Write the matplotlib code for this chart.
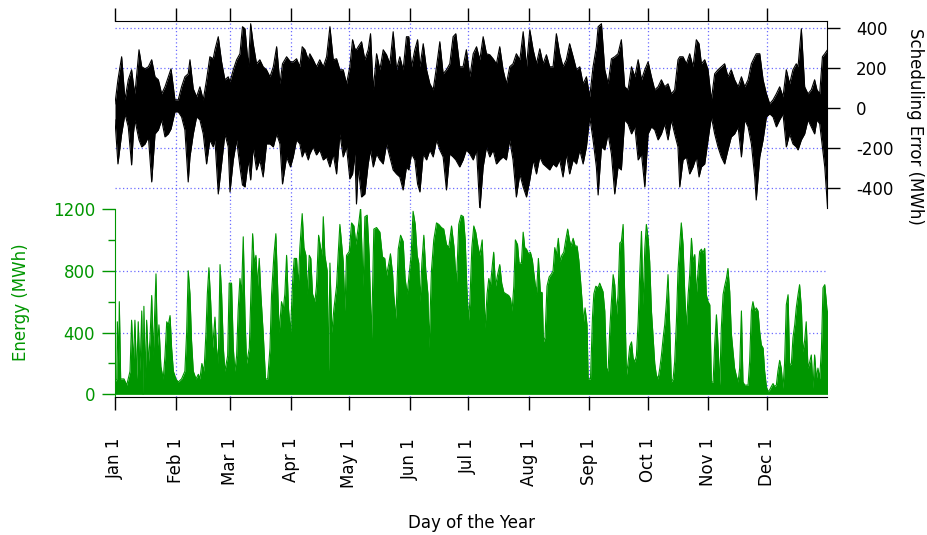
import matplotlib
matplotlib.use("Agg")
import matplotlib.pyplot as plt
from matplotlib.ticker import MultipleLocator

GREEN = "#009600"
GRID = "#6b6bff"

month_days = [0, 31, 59, 90, 120, 151, 181, 212, 243, 273, 304, 334]
month_labels = ["Jan 1", "Feb 1", "Mar 1", "Apr 1", "May 1", "Jun 1",
                "Jul 1", "Aug 1", "Sep 1", "Oct 1", "Nov 1", "Dec 1"]

# hourly energy, read as peaks / troughs along the year (day of year, MWh)
energy_day = [
    0, 0.9, 1.2, 1.9, 2.2, 2.9, 4.6, 6, 7.7, 8.5, 9.4, 10.2, 11.1, 11.9, 12.8, 13.7, 14.4, 14.8,
    15.5, 16.2, 17.1, 17.9, 18.8, 19.6, 20.5, 21.0, 21.7, 22.5, 23.5, 24.7, 25.6, 26.5, 27.3,
    28.2, 29.0, 29.9, 31.2, 32.4, 34.1, 35.8, 36.7, 37.5, 38.4, 39.2, 40.1, 41.5, 42.7, 43.5,
    44.5, 45.6, 46.6, 47.3, 48.1, 49.0, 50.0, 51.2, 52.0, 52.9, 53.8, 54.6, 55.5, 56.3, 57.7,
    58.5, 59.7, 60.6, 61.4, 62.3, 63.1, 64.0, 64.8, 65.7, 66.6, 67.4, 68.8, 69.5, 70.5, 71.3,
    72.2, 73.0, 73.9, 74.7, 75.9, 77.1, 78.2, 79.4, 80.2, 81.4, 82.4, 83.3, 84.1, 85.3, 86.2,
    87.0, 87.9, 88.9, 89.9, 91.0, 91.8, 93.0, 93.9, 94.7, 95.9, 96.8, 97.8, 98.5, 99.5, 100.3,
    101.2, 102.4, 103.2, 104.3, 105.3, 106.1, 106.7, 107.5, 108.7, 109.4, 110.1, 111.1, 112.1,
    113.5, 114.3, 115.2, 116.9, 117.8, 118.6, 120.0, 121.2, 122.4, 123.4, 124.6, 125.8, 127.1,
    128.0, 129.2, 130.2, 131.4, 132.6, 134.0, 135.7, 137.0, 138.2, 139.1, 140.3, 141.1, 142.2,
    142.8, 143.9, 145.1, 146.3, 147.6, 148.6, 149.7, 150.7, 151.7, 152.7, 153.8, 154.8, 155.6,
    156.3, 157.2, 158.2, 159.2, 160.3, 160.9, 162.1, 163.3, 164.7, 165.9, 167.2, 168.4, 169.8,
    171.0, 172.4, 173.6, 174.9, 176.1, 177.3, 178.5, 179.4, 180.2, 181.1, 181.8, 182.8, 183.8,
    184.8, 185.9, 186.9, 188.1, 188.8, 189.6, 190.6, 191.5, 192.3, 193.4, 194.0, 194.9, 196.1,
    197.1, 198.1, 199.2, 200.5, 201.7, 202.6, 203.4, 204.3, 205.1, 206.2, 207.0, 208.2, 209.1,
    209.9, 210.8, 211.8, 212.8, 213.8, 214.9, 215.9, 216.9, 217.9, 218.8, 219.5, 220.3, 221.3,
    222.4, 223.6, 224.4, 225.3, 226.1, 227.1, 228.0, 228.9, 229.9, 230.9, 231.9, 232.8, 233.6,
    234.7, 235.7, 236.7, 237.6, 238.4, 239.3, 240.0, 240.8, 241.8, 242.4, 243.6, 244.6, 245.3,
    246.3, 247.5, 248.3, 249.2, 250.0, 250.9, 251.8, 252.6, 253.5, 254.3, 255.2, 256.0, 256.9,
    257.7, 258.6, 259.4, 260.3, 261.1, 262.0, 262.8, 263.7, 264.6, 265.4, 266.3, 267.1, 268.0,
    268.8, 269.7, 270.5, 271.4, 272.2, 273.1, 273.9, 274.8, 275.6, 276.5, 277.3, 278.2, 279.1,
    279.9, 280.8, 281.6, 282.5, 283.3, 284.2, 285.0, 285.9, 286.7, 287.6, 288.4, 289.3, 290.1,
    291.0, 291.9, 292.7, 293.6, 294.4, 295.3, 296.1, 297.0, 297.8, 298.7, 299.5, 300.4, 301.2,
    302.1, 302.9, 303.8, 304.7, 305.5, 306.4, 307.2, 308.1, 308.9, 309.8, 310.6, 311.5, 312.3,
    313.2, 314.0, 314.9, 315.7, 316.6, 317.4, 318.3, 319.2, 320.0, 320.9, 321.7, 322.6, 323.4,
    324.3, 325.1, 326.0, 326.8, 327.7, 328.5, 329.4, 330.3, 331.1, 332.0, 332.8, 333.7, 334.5,
    335.4, 336.2, 337.1, 337.9, 338.8, 339.6, 340.5, 341.3, 342.2, 343.0, 343.9, 344.8, 345.6,
    346.5, 347.3, 348.2, 349.0, 349.9, 350.7, 351.6, 352.4, 353.3, 354.1, 355.0, 355.9, 356.7,
    357.6, 358.4, 359.3, 360.1, 361.0, 361.9, 362.7, 363.6, 364.4, 365.0,
]
energy_mwh = [
    80, 100, 470, 200, 600, 100, 100, 60, 150, 480, 200, 480, 100, 470, 150, 540, 0, 570,
    100, 480, 200, 350, 640, 250, 600, 780, 300, 450, 180, 100, 250, 470, 450,
    510, 300, 150, 100, 80, 100, 150, 400, 800, 650, 350, 150, 100, 130, 100,
    200, 150, 400, 650, 820, 600, 300, 500, 300, 200, 840, 650, 300, 150, 250,
    720, 720, 300, 150, 250, 550, 750, 650, 1020, 500, 200, 300, 600, 1040, 850,
    900, 700, 880, 650, 400, 100, 100, 300, 650, 900, 1040, 700, 400, 600, 550,
    650, 900, 550, 400, 730, 880, 880, 700, 950, 1170, 950, 900, 650, 900, 880,
    650, 600, 700, 1030, 950, 900, 1150, 900, 800, 150, 850, 400, 550,
    700, 900, 1100, 860, 540, 900, 925, 1110, 1090, 970, 1080, 1205, 700,
    1150, 1160, 900, 360, 1070, 1080, 1050, 890, 880, 770, 850, 910, 780,
    640, 490, 940, 1030, 990, 750, 650, 780, 900, 1185, 1100, 900, 850,
    600, 850, 1030, 800, 650, 300, 800, 1000, 1110, 1100, 1080, 1070, 970,
    950, 1090, 960, 710, 1100, 1160, 1150, 1000, 700, 480, 600, 950, 1090,
    1050, 960, 900, 1000, 750, 430, 650, 750, 700, 850, 920, 700, 780,
    840, 720, 660, 650, 640, 620, 540, 700, 1000, 970, 850, 850, 1050,
    950, 940, 910, 920, 870, 750, 650, 880, 660, 660, 340, 370, 700,
    760, 780, 800, 950, 900, 1010, 860, 900, 920, 1000, 1070, 1000, 960,
    1010, 960, 960, 870, 750, 600, 470, 560, 450, 100, 100, 500, 650,
    700, 690, 720, 690, 665, 540, 170, 150, 430, 600, 775, 710, 515,
    645, 980, 990, 1100, 645, 125, 200, 310, 340, 235, 210, 250, 470,
    775, 1055, 580, 945, 1100, 1010, 860, 540, 385, 200, 125, 100, 170,
    250, 365, 450, 600, 775, 430, 80, 100, 210, 470, 795, 970, 1110,
    970, 645, 430, 645, 775, 1010, 860, 905, 645, 800, 925, 940, 915,
    945, 645, 600, 580, 80, 80, 320, 515, 320, 60, 430, 645, 700,
    750, 815, 665, 400, 275, 170, 120, 80, 170, 540, 80, 60, 60,
    60, 210, 540, 600, 540, 560, 540, 400, 320, 300, 150, 50, 17,
    30, 50, 70, 50, 60, 150, 220, 170, 40, 200, 580, 645, 190,
    200, 365, 450, 560, 645, 710, 560, 275, 350, 470, 170, 210, 255,
    40, 255, 100, 170, 100, 300, 690, 710, 600, 540,
]

# scheduling error envelope (day of year, upper and lower MWh)
err_day = [
    0, 1.5, 3.4, 5.1, 6.8, 8.5, 9.4, 10.2, 12.3, 13.7, 15.4, 17.1, 18.8, 20.5, 22.2, 23.9,
    25.6, 27.3, 28.7, 30.7, 32.4, 34.1, 35.8, 37.5, 38.4, 40.1, 41.8, 43.5, 45.2, 46.9, 48.6,
    50.3, 51.2, 52.9, 54.6, 56.3, 58.0, 58.9, 60.6, 62.3, 64.0, 65.3, 66.6, 68.3, 69.5, 70.8,
    72.5, 74.2, 75.9, 77.6, 79.4, 81.1, 82.8, 84.5, 85.8, 87.9, 89.9, 91.3, 93.0, 94.7, 95.9,
    97.3, 99.0, 99.8, 101.5, 103.2, 104.9, 106.7, 108.4, 110.1, 111.8, 113.5, 115.2, 116.9,
    118.6, 120.3, 121.7, 122.9, 123.7, 124.6, 126.3, 128.0, 129.7, 130.9, 132.3, 134.0, 135.7,
    137.4, 139.1, 140.8, 142.5, 144.2, 145.9, 147.6, 149.3, 150.5, 151.9, 153.6, 155.0, 156.2,
    157.9, 159.6, 161.3, 163.0, 164.7, 166.4, 168.1, 169.8, 171.5, 173.2, 174.6, 176.6, 178.3,
    180.0, 181.8, 183.5, 185.2, 186.9, 188.6, 190.3, 192.0, 193.7, 195.4, 197.1, 198.8, 200.5,
    202.2, 203.9, 205.6, 207.4, 209.1, 210.8, 212.5, 214.2, 215.9, 217.6, 219.3, 221.0, 222.7,
    224.4, 226.1, 227.8, 229.5, 231.2, 232.9, 234.7, 236.4, 238.1, 239.8, 241.5, 243.2, 244.9,
    246.6, 247.5, 249.2, 250.9, 252.6, 254.3, 256.0, 257.7, 259.4, 261.1, 262.8, 264.6, 266.3,
    268.0, 269.7, 271.4, 273.1, 274.8, 276.5, 278.2, 279.9, 281.6, 283.3, 285.0, 286.7, 288.4,
    289.3, 291.0, 292.7, 294.4, 296.1, 297.8, 299.2, 300.4, 302.1, 303.8, 305.5, 307.2, 308.9,
    310.6, 312.3, 314.0, 315.7, 317.4, 319.2, 320.9, 322.6, 324.3, 326.0, 327.7, 328.5, 330.3,
    332.0, 333.7, 335.4, 337.1, 338.8, 340.5, 342.2, 343.9, 345.6, 347.3, 349.0, 349.9, 351.6,
    353.3, 355.0, 356.7, 358.4, 359.6, 361.0, 362.4, 363.6, 365.0,
]
err_hi = [
    20, 140, 255, 40, 140, 190, 120, 70, 290, 205, 195, 205, 240, 155, 140, 70,
    105, 155, 195, 40, 40, 105, 155, 170, 240, 95, 55, 105, 40, 140, 255,
    245, 290, 355, 230, 140, 155, 130, 190, 240, 270, 405, 395, 205, 420, 320,
    220, 240, 205, 190, 155, 205, 305, 120, 220, 255, 230, 230, 245, 205, 305,
    290, 240, 270, 240, 205, 240, 205, 255, 405, 240, 245, 190, 190,
    120, 205, 340, 295, 290, 305, 330, 240, 290, 370, 90, 270, 190,
    290, 265, 220, 380, 190, 255, 190, 355, 355, 205, 290, 340, 205,
    320, 190, 120, 90, 205, 330, 170, 190, 220, 355, 370, 205, 205,
    290, 155, 270, 305, 240, 355, 270, 265, 245, 220, 305, 190, 120,
    205, 220, 270, 240, 380, 205, 390, 290, 220, 295, 220, 265, 205,
    205, 370, 270, 205, 240, 320, 255, 190, 205, 120, 155, 55, 205,
    305, 405, 420, 190, 120, 245, 255, 270, 340, 105, 90, 205, 155,
    240, 140, 190, 230, 155, 90, 105, 140, 105, 120, 70, 90, 240,
    255, 255, 220, 270, 205, 340, 320, 220, 240, 190, 40, 170, 190,
    205, 220, 155, 190, 140, 105, 155, 105, 140, 220, 255, 270, 270,
    140, 70, 20, 40, 70, 105, 55, 190, 120, 190, 220, 205, 395,
    105, 70, 90, 140, 90, 70, 255, 270, 290,
]
err_lo = [
    -60, -280, -130, -30, -95, -285, -130, -60, -160, -195, -180, -145, -370, -130, -110, -60,
    -145, -130, -105, -20, -20, -45, -110, -370, -245, -130, -45, -60, -130, -280, -160,
    -195, -160, -430, -280, -130, -195, -420, -260, -160, -295, -385, -395, -260, -360, -195,
    -310, -260, -345, -180, -180, -195, -130, -180, -380, -245, -295, -245, -160, -180, -245,
    -210, -260, -230, -195, -235, -210, -260, -245, -295, -230, -330, -130, -245,
    -195, -355, -330, -230, -480, -295, -445, -430, -280, -210, -295, -230, -260,
    -280, -180, -245, -310, -330, -345, -410, -295, -310, -230, -260, -380, -420,
    -230, -260, -210, -245, -160, -210, -245, -410, -230, -245, -260, -295, -260,
    -210, -230, -260, -210, -510, -295, -195, -245, -210, -280, -260, -245, -260,
    -160, -260, -445, -330, -395, -445, -360, -260, -330, -245, -280, -295, -310,
    -280, -295, -260, -345, -230, -330, -260, -280, -210, -280, -195, -45, -160,
    -295, -435, -195, -210, -130, -230, -430, -295, -310, -60, -80, -130, -95,
    -260, -230, -395, -130, -95, -110, -160, -130, -80, -160, -60, -130, -195,
    -395, -260, -245, -330, -295, -245, -345, -295, -280, -160, -45, -130, -195,
    -245, -280, -210, -145, -130, -95, -245, -60, -95, -180, -345, -460, -245,
    -160, -45, -30, -45, -95, -60, -30, -195, -130, -180, -195, -210, -160,
    -130, -60, -95, -130, -60, -80, -195, -295, -495,
]


def style_ticks(ax, axis, color):
    ax.tick_params(axis=axis, which="both", direction="out", colors=color,
                   labelcolor=color, width=1.0)


def main():
    plt.rcParams["font.family"] = "DejaVu Sans"
    plt.rcParams["font.size"] = 12
    plt.rcParams["axes.unicode_minus"] = False
    fig = plt.figure(figsize=(9.28, 5.35), dpi=100)

    left, width = 115 / 928, (827.5 - 115) / 928
    ax_e = fig.add_axes([left, 1 - 397 / 535, width, (397 - 209) / 535])
    ax_s = fig.add_axes([left, 1 - 208 / 535, width, (208 - 20.7) / 535])

    # --- energy panel
    ax_e.fill_between(energy_day, 0, energy_mwh, color=GREEN, lw=0, zorder=3)
    ax_e.plot(energy_day, energy_mwh, color=GREEN, lw=0.8, zorder=3)
    ax_e.set_xlim(0, 365)
    ax_e.set_ylim(-17, 1200)
    for s in ("top", "right"):
        ax_e.spines[s].set_visible(False)
    ax_e.spines["left"].set_color(GREEN)
    ax_e.set_yticks([0, 400, 800, 1200])
    ax_e.yaxis.set_minor_locator(MultipleLocator(200))
    ax_e.tick_params(axis="y", which="major", length=9.4, pad=5)
    ax_e.tick_params(axis="y", which="minor", length=4.8)
    style_ticks(ax_e, "y", GREEN)
    ax_e.set_xticks(month_days)
    ax_e.set_xticklabels(month_labels, rotation=90, va="top")
    ax_e.tick_params(axis="x", direction="out", length=9.4, width=1.0, pad=20)
    for v in (400, 800):
        ax_e.axhline(v, color=GRID, ls=(0, (1, 2)), lw=0.9, zorder=1)
    for d in month_days[1:]:
        ax_e.axvline(d, color=GRID, ls=(0, (1, 2)), lw=0.9, zorder=1)

    # --- scheduling error panel
    ax_s.fill_between(err_day, err_lo, err_hi, color="black", lw=0, zorder=3)
    ax_s.plot(err_day, err_hi, color="black", lw=0.8, zorder=3)
    ax_s.plot(err_day, err_lo, color="black", lw=0.8, zorder=3)
    ax_s.set_xlim(0, 365)
    ax_s.set_ylim(-500, 435)
    for s in ("left", "bottom"):
        ax_s.spines[s].set_visible(False)
    ax_s.yaxis.tick_right()
    ax_s.set_yticks([-400, -200, 0, 200, 400])
    ax_s.tick_params(axis="y", direction="out", length=9.4, width=1.0, pad=11)
    ax_s.xaxis.tick_top()
    ax_s.set_xticks(month_days)
    ax_s.set_xticklabels([])
    ax_s.tick_params(axis="x", direction="out", length=9.4, width=1.0)
    for v in (-400, -200, 200, 400):
        ax_s.axhline(v, color=GRID, ls=(0, (1, 2)), lw=0.9, zorder=1)
    for d in month_days[1:]:
        ax_s.axvline(d, color=GRID, ls=(0, (1, 2)), lw=0.9, zorder=1)

    fig.text(21.5 / 928, 1 - 302 / 535, "Energy (MWh)", color=GREEN,
             rotation=90, ha="center", va="center")
    fig.text(915 / 928, 1 - 126 / 535, "Scheduling Error (MWh)",
             rotation=270, ha="center", va="center")
    fig.text(471 / 928, 1 - 523 / 535, "Day of the Year", ha="center", va="center")

    fig.savefig("out.png", dpi=100)


if __name__ == "__main__":
    main()
